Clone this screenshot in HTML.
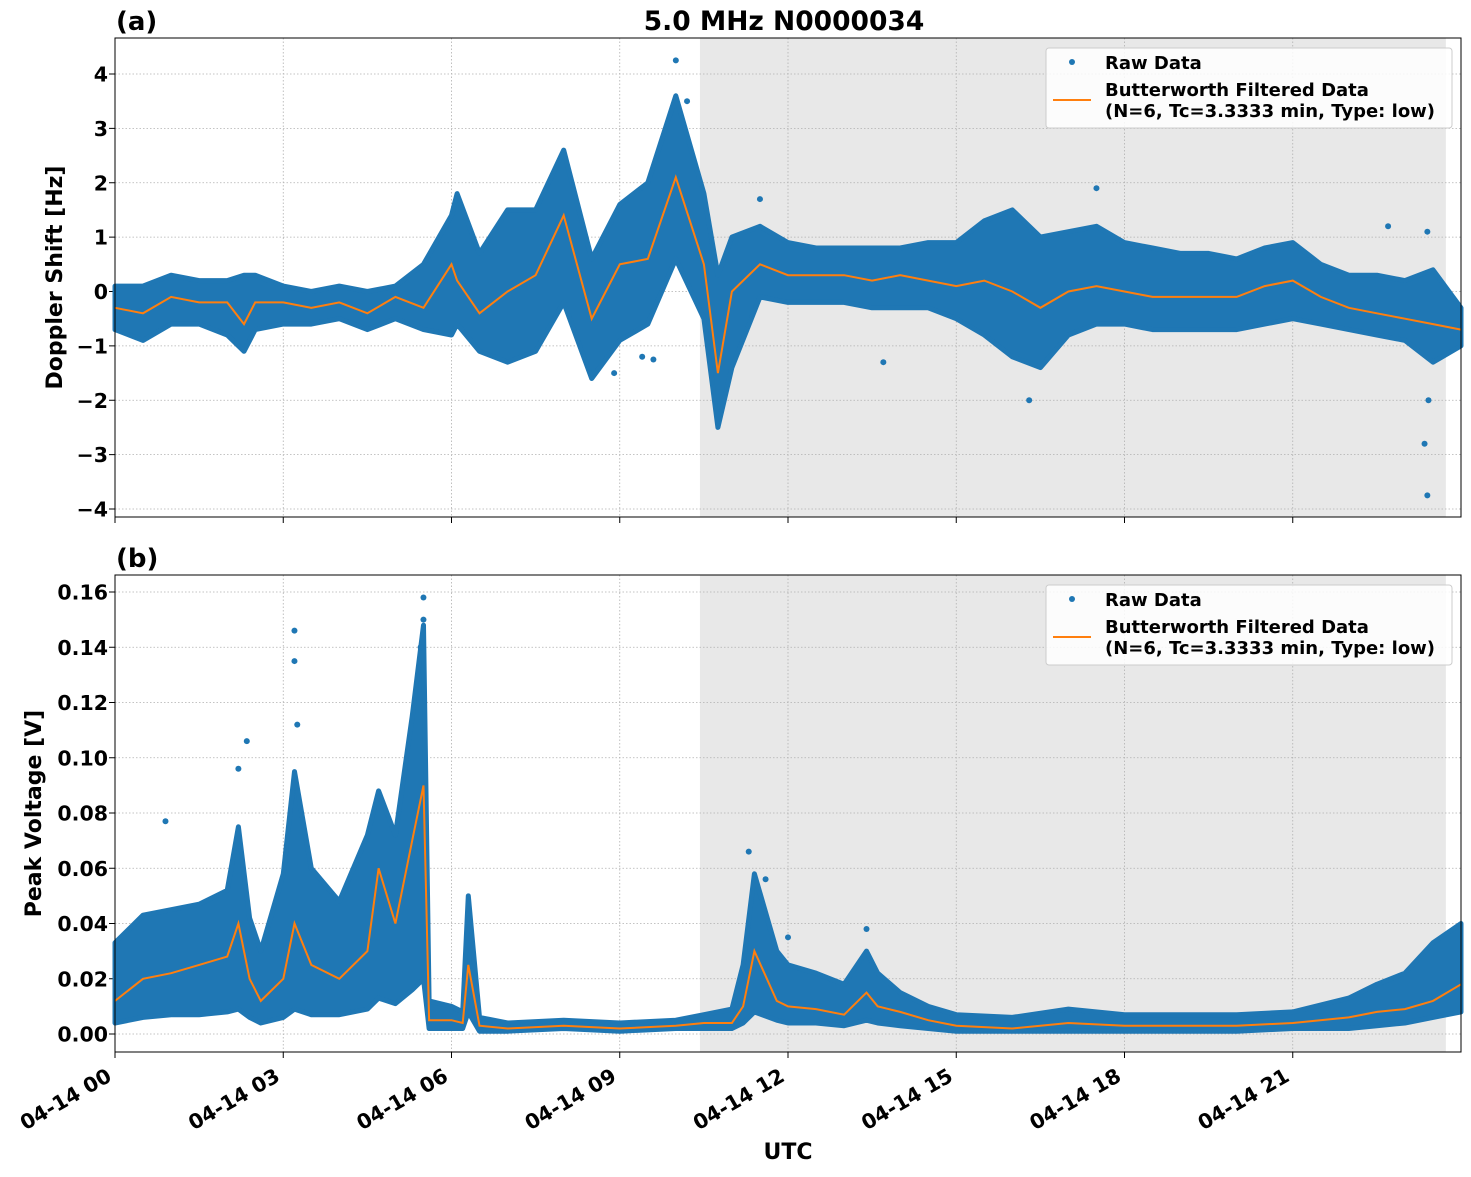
<!DOCTYPE html>
<html><head><meta charset="utf-8"><style>
body{margin:0;background:#fff;}
svg text{font-family:"DejaVu Sans","Liberation Sans",sans-serif;font-weight:bold;fill:#000;}
</style></head><body>
<svg id="c" width="1471" height="1172" xmlns="http://www.w3.org/2000/svg"></svg>
<script>
// ---- data ----
const dTimes = [0,0.5,1,1.5,2,2.3,2.5,3,3.5,4,4.5,5,5.5,6,6.1,6.5,7,7.5,8,8.5,9,9.5,10,10.5,10.75,11,11.5,12,12.5,13,13.5,14,14.5,15,15.5,16,16.5,17,17.5,18,18.5,19,19.5,20,20.5,21,21.5,22,22.5,23,23.5,24];
const dCenter= [-0.3,-0.4,-0.1,-0.2,-0.2,-0.6,-0.2,-0.2,-0.3,-0.2,-0.4,-0.1,-0.3,0.5,0.2,-0.4,0.0,0.3,1.4,-0.5,0.5,0.6,2.1,0.5,-1.5,0.0,0.5,0.3,0.3,0.3,0.2,0.3,0.2,0.1,0.2,0.0,-0.3,0.0,0.1,0.0,-0.1,-0.1,-0.1,-0.1,0.1,0.2,-0.1,-0.3,-0.4,-0.5,-0.6,-0.7];
const dLow   = [-0.7,-0.9,-0.6,-0.6,-0.8,-1.1,-0.7,-0.6,-0.6,-0.5,-0.7,-0.5,-0.7,-0.8,-0.6,-1.1,-1.3,-1.1,-0.2,-1.6,-0.9,-0.6,0.6,-0.5,-2.5,-1.4,-0.1,-0.2,-0.2,-0.2,-0.3,-0.3,-0.3,-0.5,-0.8,-1.2,-1.4,-0.8,-0.6,-0.6,-0.7,-0.7,-0.7,-0.7,-0.6,-0.5,-0.6,-0.7,-0.8,-0.9,-1.3,-1.0];
const dHigh  = [0.1,0.1,0.3,0.2,0.2,0.3,0.3,0.1,0.0,0.1,0.0,0.1,0.5,1.4,1.8,0.7,1.5,1.5,2.6,0.6,1.6,2.0,3.6,1.8,0.3,1.0,1.2,0.9,0.8,0.8,0.8,0.8,0.9,0.9,1.3,1.5,1.0,1.1,1.2,0.9,0.8,0.7,0.7,0.6,0.8,0.9,0.5,0.3,0.3,0.2,0.4,-0.3];
const dOutT = [9.4,10.0,10.2,9.6,8.9,11.5,13.7,16.3,17.5,22.7,23.35,23.4,23.42,23.4];
const dOutV = [-1.2,4.25,3.5,-1.25,-1.5,1.7,-1.3,-2.0,1.9,1.2,-2.8,-3.75,-2.0,1.1];
const vTimes = [0,0.5,1,1.5,2,2.2,2.4,2.6,3,3.2,3.5,4,4.5,4.7,5,5.3,5.5,5.6,6,6.2,6.3,6.5,7,8,9,10,10.5,11,11.2,11.4,11.8,12,12.5,13,13.4,13.6,14,14.5,15,16,17,18,19,20,21,22,22.5,23,23.5,24];
const vCenter= [0.012,0.02,0.022,0.025,0.028,0.04,0.02,0.012,0.02,0.04,0.025,0.02,0.03,0.06,0.04,0.07,0.09,0.005,0.005,0.004,0.025,0.003,0.002,0.003,0.002,0.003,0.004,0.004,0.01,0.03,0.012,0.01,0.009,0.007,0.015,0.01,0.008,0.005,0.003,0.002,0.004,0.003,0.003,0.003,0.004,0.006,0.008,0.009,0.012,0.018];
const vLow   = [0.004,0.006,0.007,0.007,0.008,0.009,0.006,0.004,0.006,0.009,0.007,0.007,0.009,0.013,0.011,0.016,0.02,0.002,0.002,0.002,0.008,0.001,0.001,0.002,0.001,0.002,0.002,0.002,0.004,0.008,0.005,0.004,0.004,0.003,0.005,0.004,0.003,0.002,0.001,0.001,0.001,0.001,0.001,0.001,0.002,0.002,0.003,0.004,0.006,0.008];
const vHigh  = [0.033,0.043,0.045,0.047,0.052,0.075,0.042,0.03,0.058,0.095,0.06,0.048,0.072,0.088,0.072,0.115,0.148,0.012,0.01,0.008,0.05,0.006,0.004,0.005,0.004,0.005,0.007,0.009,0.025,0.058,0.03,0.025,0.022,0.018,0.03,0.022,0.015,0.01,0.007,0.006,0.009,0.007,0.007,0.007,0.008,0.013,0.018,0.022,0.033,0.04];
const vOutT = [0.9,2.2,2.35,3.2,3.2,3.25,5.5,5.5,5.45,11.3,11.6,12.0,13.4];
const vOutV = [0.077,0.096,0.106,0.146,0.135,0.112,0.158,0.15,0.14,0.066,0.056,0.035,0.038];
const xTicks = [0,3,6,9,12,15,18,21];
const xLabels = ["04-14 00","04-14 03","04-14 06","04-14 09","04-14 12","04-14 15","04-14 18","04-14 21"];
const dTicks = [-4,-3,-2,-1,0,1,2,3,4];
const vTicks = [0,0.02,0.04,0.06,0.08,0.10,0.12,0.14,0.16];
const shadeRange = [10.43,23.73];

const svg=document.getElementById('c');
const NS='http://www.w3.org/2000/svg';
function mk(tag,at,parent,txt){const e=document.createElementNS(NS,tag);for(const k in at)e.setAttribute(k,at[k]);if(txt!==undefined)e.textContent=txt;(parent||svg).appendChild(e);return e;}
const X0=115,X1=1461;
const xs=t=>X0+(t/24)*(X1-X0);

function panel(cfg){
  const g=mk('g',{});
  
  
  const ys=v=>cfg.y0px+(v-cfg.v0)/(cfg.v1-cfg.v0)*(cfg.y1px-cfg.y0px);
  const sh=mk('rect',{x:xs(shadeRange[0]),y:cfg.top,width:xs(shadeRange[1])-xs(shadeRange[0]),height:cfg.bot-cfg.top,fill:'#e8e8e8'},g);
  
  
  xTicks.forEach(t=>{mk('line',{x1:xs(t),x2:xs(t),y1:cfg.top,y2:cfg.bot,stroke:'#b0b0b0','stroke-width':0.8,'stroke-dasharray':'1.5,2'},g);
    mk('line',{x1:xs(t),x2:xs(t),y1:cfg.bot,y2:cfg.bot+6,stroke:'#000','stroke-width':1},g);});
  cfg.ticks.forEach((v,i)=>{const y=ys(v);
    mk('line',{x1:X0,x2:X1,y1:y,y2:y,stroke:'#b0b0b0','stroke-width':0.8,'stroke-dasharray':'1.5,2'},g);
    mk('line',{x1:X0-6,x2:X0,y1:y,y2:y,stroke:'#000'},g);
    const tl=mk('text',{x:X0-7,y:y+7.5,'text-anchor':'end','font-size':20.5},g,cfg.fmt(v));
    
    });
  let p='';
  cfg.t.forEach((t,i)=>{p+=(i?'L':'M')+xs(t).toFixed(1)+','+ys(cfg.hi[i]).toFixed(1);});
  for(let i=cfg.t.length-1;i>=0;i--)p+='L'+xs(cfg.t[i]).toFixed(1)+','+ys(cfg.lo[i]).toFixed(1);
  const band=mk('path',{d:p+'Z',fill:'#1f77b4',stroke:'#1f77b4','stroke-width':5,'stroke-linejoin':'round'},g);
  
  
  cfg.ot.forEach((t,i)=>{const d=mk('circle',{cx:xs(t),cy:ys(cfg.ov[i]),r:3,fill:'#1f77b4'},g);
    
    });
  let l='';cfg.t.forEach((t,i)=>{l+=(i?'L':'M')+xs(t).toFixed(1)+','+ys(cfg.c[i]).toFixed(1);});
  const ln=mk('path',{d:l,fill:'none',stroke:'#ff7f0e','stroke-width':2},g);
  
  
  const fr=mk('rect',{x:X0,y:cfg.top,width:X1-X0,height:cfg.bot-cfg.top,fill:'none',stroke:'#000','stroke-width':1},g);
  
  
  const lg=mk('g',{},g);
  
  
  const ly=cfg.top+10;
  mk('rect',{x:1046,y:ly,width:406,height:80,fill:'#fff','fill-opacity':0.85,stroke:'#ccc',rx:3},lg);
  mk('circle',{cx:1072,cy:ly+14,r:3,fill:'#1f77b4'},lg);
  mk('text',{x:1105,y:ly+21,'font-size':18},lg,'Raw Data');
  mk('line',{x1:1053,x2:1091,y1:ly+52,y2:ly+52,stroke:'#ff7f0e','stroke-width':2},lg);
  mk('text',{x:1105,y:ly+48,'font-size':18},lg,'Butterworth Filtered Data');
  mk('text',{x:1105,y:ly+69,'font-size':18},lg,'(N=6, Tc=3.3333 min, Type: low)');
  const pl=mk('text',{x:116,y:cfg.top-8,'font-size':26},g,cfg.label);
  
  
  const yl=mk('text',{x:0,y:0,'font-size':22,'text-anchor':'middle',transform:`translate(${cfg.ylx},${(cfg.top+cfg.bot)/2}) rotate(-90)`},g,cfg.ylabel);
  
  
}
panel({name:'doppler-panel',top:38,bot:517,v0:4,v1:-4,y0px:74,y1px:509,ticks:dTicks,fmt:v=>v<0?'\u2212'+(-v):String(v),
  t:dTimes,c:dCenter,lo:dLow,hi:dHigh,ot:dOutT,ov:dOutV,label:'(a)',ylabel:'Doppler Shift [Hz]',ylx:62});
panel({name:'voltage-panel',top:575,bot:1052,v0:0,v1:0.16,y0px:1034,y1px:592,ticks:vTicks,fmt:v=>v.toFixed(2),
  t:vTimes,c:vCenter,lo:vLow,hi:vHigh,ot:vOutT,ov:vOutV,label:'(b)',ylabel:'Peak Voltage [V]',ylx:41});
xTicks.forEach((t,i)=>{const e=mk('text',{x:0,y:0,'font-size':20.5,'text-anchor':'end',transform:`translate(${xs(t)-2},${1080}) rotate(-30)`},svg,xLabels[i]);
  
  });
const ti=mk('text',{x:784,y:30,'font-size':26.5,'text-anchor':'middle'},svg,'5.0 MHz N0000034');


const xt=mk('text',{x:788,y:1159,'font-size':22,'text-anchor':'middle'},svg,'UTC');


</script>
</body></html>
